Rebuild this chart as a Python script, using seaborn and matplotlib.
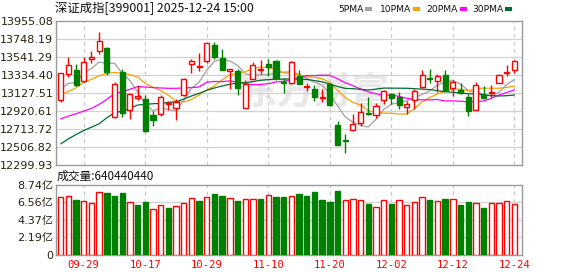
import numpy as np
import pandas as pd
import matplotlib
matplotlib.use("Agg")
import matplotlib.pyplot as plt
from matplotlib.patches import Rectangle
import seaborn as sns

# ---------------- data ----------------
dates = ["09-24", "09-25", "09-26", "09-29", "09-30",
         "10-09", "10-10", "10-13", "10-14", "10-15", "10-16", "10-17", "10-20", "10-21", "10-22",
         "10-23", "10-24", "10-27", "10-28", "10-29", "10-30", "10-31",
         "11-03", "11-04", "11-05", "11-06", "11-07", "11-10", "11-11", "11-12", "11-13", "11-14",
         "11-17", "11-18", "11-19", "11-20", "11-21", "11-24", "11-25", "11-26", "11-27", "11-28",
         "12-01", "12-02", "12-03", "12-04", "12-05", "12-08", "12-09", "12-10", "12-11", "12-12",
         "12-15", "12-16", "12-17", "12-18", "12-19", "12-22", "12-23", "12-24"]

opens = [13046.4, 13344.1, 13398.2, 13262.9, 13522.0, 13614.8, 13641.9, 12849.1, 13371.2, 12926.5,
         13069.5, 13061.8, 12876.2, 12880.1, 12999.9, 12949.7, 13104.3, 13460.1, 13429.2, 13494.9,
         13676.7, 13529.7, 13382.8, 13382.8, 12957.4, 13293.8, 13394.4, 13467.9, 13494.9, 13259.0,
         13243.6, 13328.6, 13197.2, 13170.1, 13071.5, 13232.0, 12752.5, 12590.1, 12698.3, 12775.6,
         12899.4, 12872.3, 13046.4, 13119.8, 13081.2, 12965.1, 13042.5, 13197.2, 13301.6, 13266.8,
         13336.4, 13185.6, 13162.4, 13085.0, 12930.4, 13104.3, 13127.6, 13247.4, 13363.5, 13390.5]
highs = [13363.5, 13537.5, 13467.9, 13537.5, 13607.1, 13827.5, 13653.5, 13259.0, 13409.8, 13127.6,
         13224.2, 13100.5, 12918.7, 13104.3, 13034.8, 13054.1, 13301.6, 13518.1, 13583.9, 13703.7,
         13715.3, 13630.3, 13409.8, 13402.1, 13278.4, 13487.2, 13506.5, 13514.3, 13506.5, 13305.4,
         13498.8, 13394.4, 13247.4, 13220.3, 13174.0, 13243.6, 12802.7, 12655.8, 12880.1, 13015.4,
         13085.0, 13007.6, 13158.5, 13131.4, 13143.1, 13034.8, 13174.0, 13394.4, 13406.0, 13351.8,
         13394.4, 13282.2, 13243.6, 13119.8, 13255.2, 13208.8, 13224.2, 13351.8, 13456.3, 13506.5]
lows = [13019.3, 13313.2, 13208.8, 13255.2, 13471.7, 13576.1, 13336.4, 12841.4, 12849.1, 12822.1,
        13042.5, 12679.0, 12740.9, 12856.9, 12934.2, 12810.5, 13096.6, 13355.7, 13382.8, 13479.5,
        13518.1, 13390.5, 13170.1, 13104.3, 12957.4, 13286.1, 13344.1, 13324.8, 13282.2, 13123.7,
        13235.8, 13228.1, 13150.8, 13034.8, 13023.2, 12980.6, 12528.2, 12439.2, 12686.7, 12744.8,
        12872.3, 12833.7, 13003.8, 13003.8, 12938.1, 12887.8, 12938.1, 13189.4, 13243.6, 13143.0,
        13150.8, 13088.9, 13119.8, 12856.9, 12926.5, 13061.8, 13077.3, 13239.7, 13320.9, 13359.6]
closes = [13355.7, 13452.4, 13216.5, 13487.2, 13537.5, 13730.8, 13371.2, 13232.0, 12899.4, 13119.8,
          13088.9, 12686.7, 12810.5, 13081.2, 13011.5, 13019.3, 13293.8, 13498.8, 13440.8, 13699.9,
          13545.2, 13394.4, 13406.0, 13181.7, 13228.1, 13452.4, 13409.8, 13429.2, 13297.7, 13247.4,
          13491.0, 13232.0, 13208.8, 13085.0, 13079.2, 12984.5, 12532.1, 12578.4, 12771.8, 12907.1,
          12883.9, 12977.0, 13150.8, 13073.4, 12988.3, 13000.0, 13150.8, 13336.4, 13290.0, 13324.8,
          13158.5, 13255.2, 13123.7, 12915.0, 13216.5, 13065.7, 13143.0, 13336.4, 13375.0, 13494.9]

# volume in 亿, and its colour direction (1 = red, 0 = green)
volumes = [7.20, 7.33, 6.83, 6.70, 6.41, 7.83, 7.75, 7.33, 7.70, 6.58,
           6.21, 6.58, 5.71, 6.16, 5.87, 6.04, 6.46, 7.04, 6.70, 7.16,
           7.58, 7.33, 7.04, 6.70, 6.91, 6.91, 6.95, 7.41, 7.20, 7.20,
           7.33, 7.58, 7.33, 7.83, 6.83, 6.58, 7.95, 6.79, 6.91, 6.79,
           6.33, 5.91, 6.79, 6.33, 6.83, 6.16, 6.58, 7.16, 6.83, 6.70,
           6.95, 6.91, 6.21, 6.58, 6.41, 5.83, 6.46, 6.46, 6.70, 6.33]
vol_dir = [1, 1, 0, 1, 1, 1, 0, 0, 0, 1,
           0, 0, 1, 1, 0, 1, 1, 1, 0, 1,
           0, 0, 1, 0, 1, 1, 0, 1, 0, 0,
           1, 0, 0, 0, 0, 0, 0, 1, 1, 1,
           0, 1, 1, 0, 1, 1, 1, 1, 0, 1,
           0, 1, 0, 0, 1, 0, 1, 1, 1, 1]

# moving-average values before a full window is visible
ma5_head = [13170.0, 13239.7, 13247.4, 13363.5]
ma10_head = [13104.4, 13143.0, 13189.4, 13247.4, 13286.1, 13324.8, 13351.8, 13363.5, 13355.7]
ma20_head = [12829.8, 12860.7, 12887.8, 12918.7, 12949.7, 12996.1, 13054.1, 13119.8, 13143.0, 13170.1,
             13201.0, 13197.2, 13189.4, 13185.6, 13181.7, 13181.7, 13185.6, 13189.4, 13197.2]
ma30_head = [12539.8, 12597.8, 12648.1, 12694.5, 12733.2, 12771.8, 12841.4, 12899.4, 12918.7, 12949.7,
             12988.3, 12996.1, 13003.8, 13007.7, 13019.3, 13027.0, 13058.0, 13092.8, 13123.7, 13158.5,
             13185.6, 13208.8, 13228.1, 13243.6, 13247.4, 13259.0, 13274.5, 13282.2, 13286.1]

price_ticks = [12299.93, 12506.82, 12713.72, 12920.61, 13127.51, 13334.40, 13541.29, 13748.19, 13955.08]
vol_ticks = [0, 2.185, 4.37, 6.555, 8.74]
vol_tick_labels = ["0", "2.19亿", "4.37亿", "6.56亿", "8.74亿"]
ma_labels = ["5PMA", "10PMA", "20PMA", "30PMA"]
ma_colors = ["#a0a0a0", "#f5a300", "#ff00ff", "#006b35"]
title_text = "深证成指[399001] 2025-12-24 15:00"
vol_title = "成交量:640440440"

# ---------------- build frame ----------------
n = len(closes)
df = pd.DataFrame({"x": np.arange(n), "open": opens, "high": highs, "low": lows,
                   "close": closes, "vol": volumes, "vdir": vol_dir, "date": dates})
c = df["close"]
ma_series = []
for win, head in zip([5, 10, 20, 30], [ma5_head, ma10_head, ma20_head, ma30_head]):
    m = c.rolling(win).mean().to_numpy()
    m[:len(head)] = head
    ma_series.append(m)

# ---------------- style ----------------
sns.set_style("white")
plt.rcParams["font.family"] = ["DejaVu Sans", "Noto Sans CJK SC"]

W, H = 578, 276
fig = plt.figure(figsize=(W / 100, H / 100), dpi=100)


def box(l, t, r, b):
    return [l / W, 1 - b / H, (r - l) / W, (b - t) / H]


ax = fig.add_axes(box(56, 21.3, 522, 164.7))
axv = fig.add_axes(box(56, 184.7, 522, 254.7))

RED = "#ff0000"
GREEN = "#008000"
SPINE = "#9a9a9a"
GRID = "#d2d2d2"
LABEL = "#2a2010"
xlim = (-0.61, 59.99)
tick_idx = list(range(3, n, 8))

for a in (ax, axv):
    a.set_xlim(*xlim)
    for s in a.spines.values():
        s.set_color(SPINE)
        s.set_linewidth(1.0)
    for xi in tick_idx:
        a.axvline(xi, color="#c8c8c8", lw=0.9, ls=(0, (3, 3)), zorder=0.6)

# watermark
ax.text(0.555, 0.50, "东方财富", transform=ax.transAxes, ha="center", va="center",
        fontsize=27, fontweight="bold", color="#e8e8e8", family=["Noto Sans CJK SC"], zorder=0.5)

# price grid
ax.set_ylim(price_ticks[0], price_ticks[-1])
ax.set_yticks(price_ticks)
ax.set_yticklabels([f"{v:.2f}" for v in price_ticks])
for v in price_ticks[1:-1]:
    ax.axhline(v, color=GRID, lw=0.9, zorder=0.6)

# moving averages via seaborn
for m, col, lab in zip(ma_series, ma_colors, ma_labels):
    sns.lineplot(x=df["x"], y=m, color=col, lw=0.9, ax=ax, zorder=2, legend=False)

# candles
up = (df["close"] >= df["open"]).to_numpy()
for _, r in df.iterrows():
    col = RED if r["close"] >= r["open"] else GREEN
    ax.vlines(r["x"], r["low"], r["high"], color=col, lw=1.0, zorder=3)
body_lo = np.minimum(df["open"], df["close"])
body_h = np.maximum(np.abs(df["close"] - df["open"]), 6.0)
ax.bar(df["x"], body_h, bottom=body_lo, width=0.66,
       color=np.where(up, "white", GREEN), edgecolor=np.where(up, RED, GREEN),
       linewidth=1.0, zorder=4)

ax.set_xticks(tick_idx)
ax.set_xticklabels([])
ax.tick_params(axis="both", length=0)
ax.tick_params(axis="y", pad=2, labelsize=8, labelcolor=LABEL)
ax.set_xlabel("")
ax.set_ylabel("")

# volume
axv.set_ylim(0, 8.74)
axv.set_yticks(vol_ticks)
axv.set_yticklabels(vol_tick_labels)
for v in vol_ticks[1:-1]:
    axv.axhline(v, color=GRID, lw=0.9, zorder=0.6)
vred = (df["vdir"] == 1).to_numpy()
axv.bar(df["x"], df["vol"], width=0.7,
        color=np.where(vred, "white", GREEN), edgecolor=np.where(vred, RED, GREEN),
        linewidth=1.0, zorder=3)
axv.set_xticks(tick_idx)
axv.set_xticklabels([dates[i] for i in tick_idx], family=["DejaVu Sans Mono"], fontsize=7.6, color=RED)
axv.tick_params(axis="both", length=0)
axv.tick_params(axis="x", pad=4)
axv.tick_params(axis="y", pad=2, labelsize=8, labelcolor=LABEL)

# header texts
fig.text(55 / W, 1 - 8.5 / H, title_text, ha="left", va="center", fontsize=8.9,
         family=["Noto Sans CJK SC", "DejaVu Sans"], color="#111111")
fig.text(57 / W, 1 - 176.7 / H, vol_title, ha="left", va="center", fontsize=8.5,
         family=["Noto Sans CJK SC", "DejaVu Sans"], color="#111111")

# legend: label followed by a colour chip
label_x = [338, 380, 426, 472]
chip_x = [365, 413, 460, 505]
for lab, col, lx, cx in zip(ma_labels, ma_colors, label_x, chip_x):
    fig.text(lx / W, 1 - 9 / H, lab, ha="left", va="center", fontsize=6.6, color="#111111")
    fig.patches.append(Rectangle((cx / W, 1 - 10.8 / H), 6.5 / W, 3.6 / H,
                                 transform=fig.transFigure, facecolor=col, edgecolor="none"))

fig.savefig("out.png", dpi=100)
